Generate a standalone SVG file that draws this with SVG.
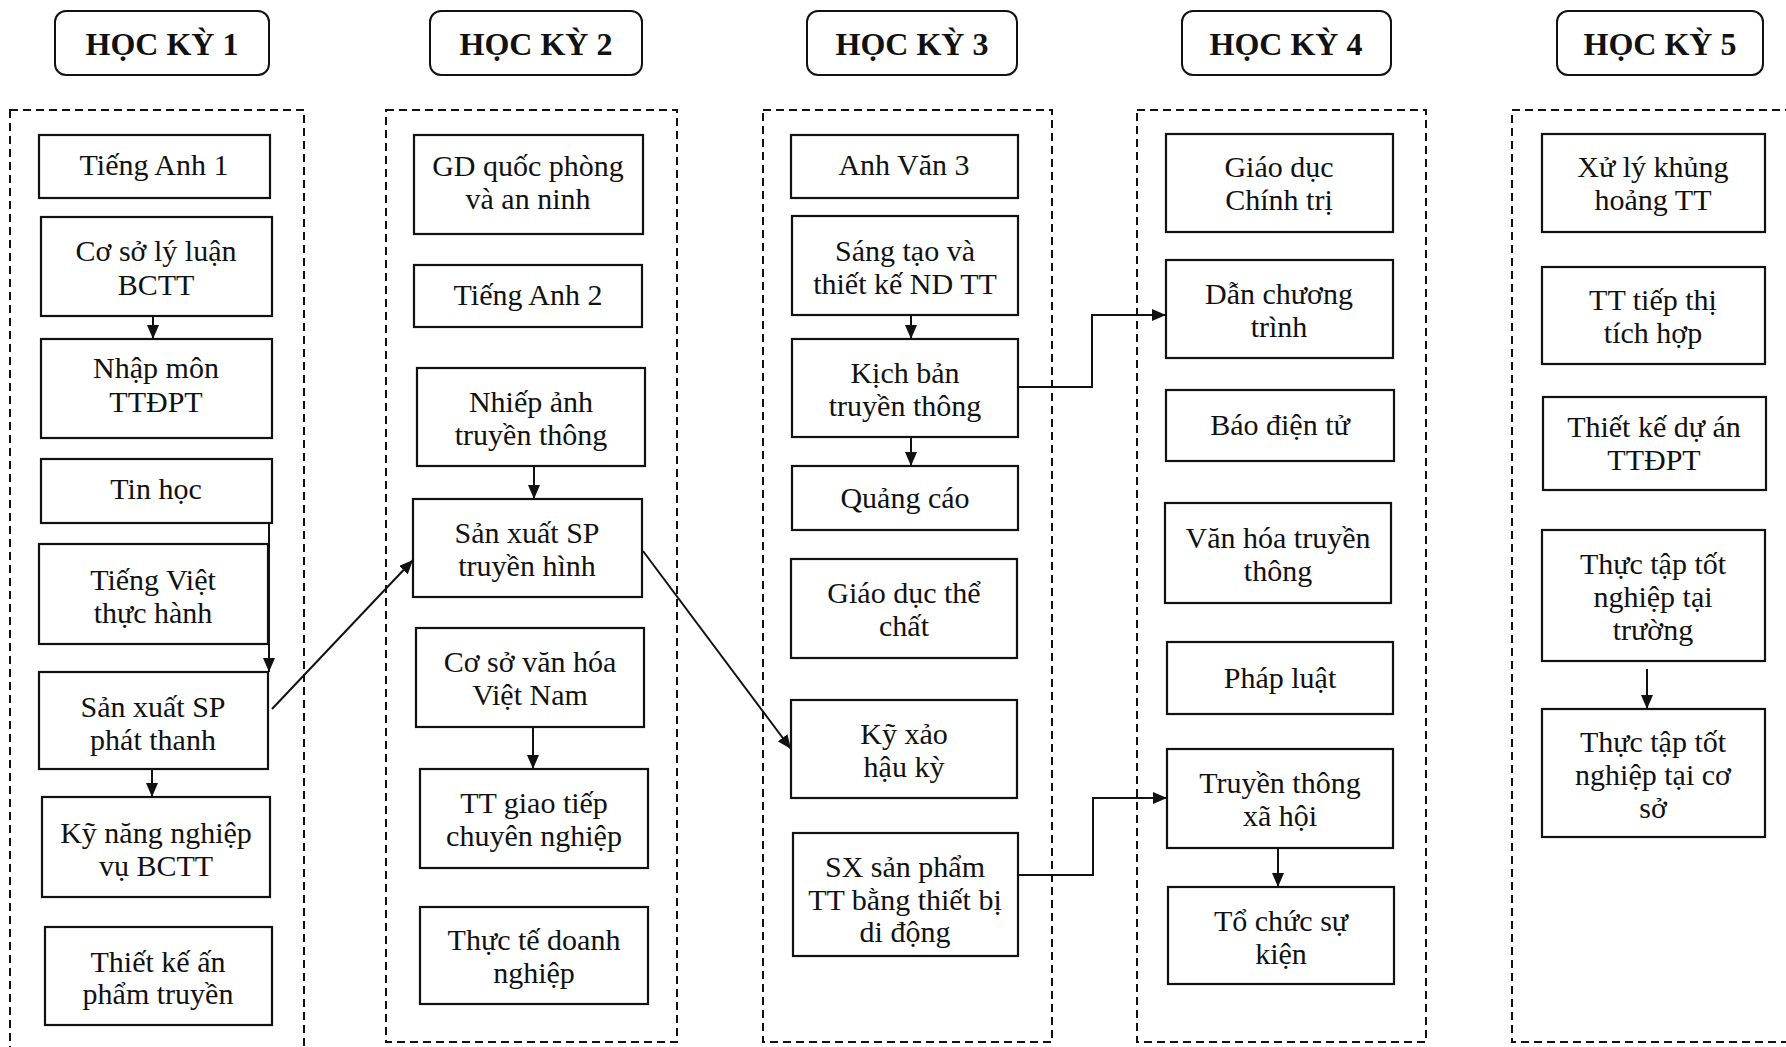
<svg xmlns="http://www.w3.org/2000/svg" width="1786" height="1047" viewBox="0 0 1786 1047">
<style>
.bg{fill:#ffffff}
.frame{fill:none;stroke:#111;stroke-width:2;stroke-dasharray:8 5}
.hdr rect{fill:#fff;stroke:#111;stroke-width:2}
.hdr text{font-family:"Liberation Serif","Times New Roman",serif;font-weight:bold;font-size:32px;fill:#111;text-anchor:middle}
.node rect{fill:#fff;stroke:#111;stroke-width:2.2}
.node text{font-family:"Liberation Serif","Times New Roman",serif;font-size:30px;fill:#111;text-anchor:middle}
.edge{fill:none;stroke:#111;stroke-width:2;marker-end:url(#ah)}
</style>
<defs>
<marker id="ah" markerUnits="userSpaceOnUse" markerWidth="14" markerHeight="12" refX="14" refY="6" orient="auto">
<path d="M0,0 L14,6 L0,12 z" fill="#111"/>
</marker>
</defs>
<rect class="bg" x="0" y="0" width="1786" height="1047"/>

<g id="frames">
<rect class="frame" x="10" y="110" width="294" height="945"/>
<rect class="frame" x="386" y="110" width="291" height="932"/>
<rect class="frame" x="763" y="110" width="289" height="932"/>
<rect class="frame" x="1137" y="110" width="289" height="932"/>
<rect class="frame" x="1512" y="110" width="290" height="932"/>
</g>

<g id="headers">
<g id="hk1" class="hdr"><rect x="55" y="11" width="214" height="64" rx="11"/><text x="162" y="55">HỌC KỲ 1</text></g>
<g id="hk2" class="hdr"><rect x="430" y="11" width="212" height="64" rx="11"/><text x="536" y="55">HỌC KỲ 2</text></g>
<g id="hk3" class="hdr"><rect x="807" y="11" width="210" height="64" rx="11"/><text x="912" y="55">HỌC KỲ 3</text></g>
<g id="hk4" class="hdr"><rect x="1182" y="11" width="209" height="64" rx="11"/><text x="1286" y="55">HỌC KỲ 4</text></g>
<g id="hk5" class="hdr"><rect x="1557" y="11" width="206" height="64" rx="11"/><text x="1660" y="55">HỌC KỲ 5</text></g>
</g>

<!-- Semester 1 -->
<g id="tieng-anh-1" class="node"><rect x="39" y="135" width="231" height="63"/><text x="154" y="175">Tiếng Anh 1</text></g>
<g id="co-so-ly-luan" class="node"><rect x="41" y="217" width="231" height="99"/><text x="156" y="261">Cơ sở lý luận</text><text x="156" y="295">BCTT</text></g>
<g id="nhap-mon" class="node"><rect x="41" y="339" width="231" height="99"/><text x="156" y="378">Nhập môn</text><text x="156" y="412">TTĐPT</text></g>
<g id="tin-hoc" class="node"><rect x="41" y="459" width="231" height="64"/><text x="156" y="499">Tin học</text></g>
<g id="tieng-viet" class="node"><rect x="39" y="544" width="229" height="100"/><text x="153" y="590">Tiếng Việt</text><text x="153" y="623">thực hành</text></g>
<g id="sx-phat-thanh" class="node"><rect x="39" y="672" width="229" height="97"/><text x="153" y="717">Sản xuất SP</text><text x="153" y="750">phát thanh</text></g>
<g id="ky-nang" class="node"><rect x="42" y="797" width="228" height="100"/><text x="156" y="843">Kỹ năng nghiệp</text><text x="156" y="876">vụ BCTT</text></g>
<g id="thiet-ke-an-pham" class="node"><rect x="45" y="927" width="227" height="98"/><text x="158" y="972">Thiết kế ấn</text><text x="158" y="1004">phẩm truyền</text></g>

<!-- Semester 2 -->
<g id="gd-quoc-phong" class="node"><rect x="414" y="135" width="229" height="99"/><text x="528" y="176">GD quốc phòng</text><text x="528" y="209">và an ninh</text></g>
<g id="tieng-anh-2" class="node"><rect x="414" y="265" width="228" height="62"/><text x="528" y="305">Tiếng Anh 2</text></g>
<g id="nhiep-anh" class="node"><rect x="417" y="368" width="228" height="98"/><text x="531" y="412">Nhiếp ảnh</text><text x="531" y="445">truyền thông</text></g>
<g id="sx-truyen-hinh" class="node"><rect x="413" y="499" width="229" height="98"/><text x="527" y="543">Sản xuất SP</text><text x="527" y="576">truyền hình</text></g>
<g id="co-so-van-hoa" class="node"><rect x="416" y="628" width="228" height="99"/><text x="530" y="672">Cơ sở văn hóa</text><text x="530" y="705">Việt Nam</text></g>
<g id="tt-giao-tiep" class="node"><rect x="420" y="769" width="228" height="99"/><text x="534" y="813">TT giao tiếp</text><text x="534" y="846">chuyên nghiệp</text></g>
<g id="thuc-te-dn" class="node"><rect x="420" y="907" width="228" height="97"/><text x="534" y="950">Thực tế doanh</text><text x="534" y="983">nghiệp</text></g>

<!-- Semester 3 -->
<g id="anh-van-3" class="node"><rect x="791" y="135" width="227" height="63"/><text x="904" y="175">Anh Văn 3</text></g>
<g id="sang-tao" class="node"><rect x="792" y="216" width="226" height="99"/><text x="905" y="261">Sáng tạo và</text><text x="905" y="294">thiết kế ND TT</text></g>
<g id="kich-ban" class="node"><rect x="792" y="339" width="226" height="98"/><text x="905" y="383">Kịch bản</text><text x="905" y="416">truyền thông</text></g>
<g id="quang-cao" class="node"><rect x="792" y="466" width="226" height="64"/><text x="905" y="508">Quảng cáo</text></g>
<g id="gd-the-chat" class="node"><rect x="791" y="559" width="226" height="99"/><text x="904" y="603">Giáo dục thể</text><text x="904" y="636">chất</text></g>
<g id="ky-xao" class="node"><rect x="791" y="700" width="226" height="98"/><text x="904" y="744">Kỹ xảo</text><text x="904" y="777">hậu kỳ</text></g>
<g id="sx-thiet-bi" class="node"><rect x="793" y="833" width="225" height="123"/><text x="905" y="877">SX sản phẩm</text><text x="905" y="910">TT bằng thiết bị</text><text x="905" y="942">di động</text></g>

<!-- Semester 4 -->
<g id="gd-chinh-tri" class="node"><rect x="1166" y="134" width="227" height="98"/><text x="1279" y="177">Giáo dục</text><text x="1279" y="210">Chính trị</text></g>
<g id="dan-chuong-trinh" class="node"><rect x="1166" y="260" width="227" height="98"/><text x="1279" y="304">Dẫn chương</text><text x="1279" y="337">trình</text></g>
<g id="bao-dien-tu" class="node"><rect x="1166" y="390" width="228" height="71"/><text x="1280" y="435">Báo điện tử</text></g>
<g id="van-hoa-tt" class="node"><rect x="1165" y="503" width="226" height="100"/><text x="1278" y="548">Văn hóa truyền</text><text x="1278" y="581">thông</text></g>
<g id="phap-luat" class="node"><rect x="1167" y="642" width="226" height="72"/><text x="1280" y="688">Pháp luật</text></g>
<g id="tt-xa-hoi" class="node"><rect x="1167" y="749" width="226" height="99"/><text x="1280" y="793">Truyền thông</text><text x="1280" y="826">xã hội</text></g>
<g id="to-chuc-su-kien" class="node"><rect x="1168" y="887" width="226" height="97"/><text x="1281" y="931">Tổ chức sự</text><text x="1281" y="964">kiện</text></g>

<!-- Semester 5 -->
<g id="xu-ly-khung-hoang" class="node"><rect x="1542" y="134" width="223" height="98"/><text x="1653" y="177">Xử lý khủng</text><text x="1653" y="210">hoảng TT</text></g>
<g id="tt-tiep-thi" class="node"><rect x="1542" y="267" width="223" height="97"/><text x="1653" y="310">TT tiếp thị</text><text x="1653" y="343">tích hợp</text></g>
<g id="thiet-ke-du-an" class="node"><rect x="1543" y="397" width="223" height="93"/><text x="1654" y="437">Thiết kế dự án</text><text x="1654" y="470">TTĐPT</text></g>
<g id="thuc-tap-truong" class="node"><rect x="1542" y="530" width="223" height="131"/><text x="1653" y="574">Thực tập tốt</text><text x="1653" y="607">nghiệp tại</text><text x="1653" y="640">trường</text></g>
<g id="thuc-tap-co-so" class="node"><rect x="1542" y="709" width="223" height="128"/><text x="1653" y="752">Thực tập tốt</text><text x="1653" y="785">nghiệp tại cơ</text><text x="1653" y="818">sở</text></g>

<g id="connectors">
<path class="edge" d="M153,316 V339"/>
<path class="edge" d="M269,523 V672"/>
<path class="edge" d="M152,769 V797"/>
<path class="edge" d="M272,709 L413,560"/>
<path class="edge" d="M534,466 V499"/>
<path class="edge" d="M533,727 V769"/>
<path class="edge" d="M643,551 L791,749"/>
<path class="edge" d="M911,315 V339"/>
<path class="edge" d="M911,437 V466"/>
<path class="edge" d="M1018,387 H1092 V315 H1166"/>
<path class="edge" d="M1018,875 H1093 V798 H1167"/>
<path class="edge" d="M1278,848 V887"/>
<path class="edge" d="M1647,669 V709"/>
</g>
</svg>
